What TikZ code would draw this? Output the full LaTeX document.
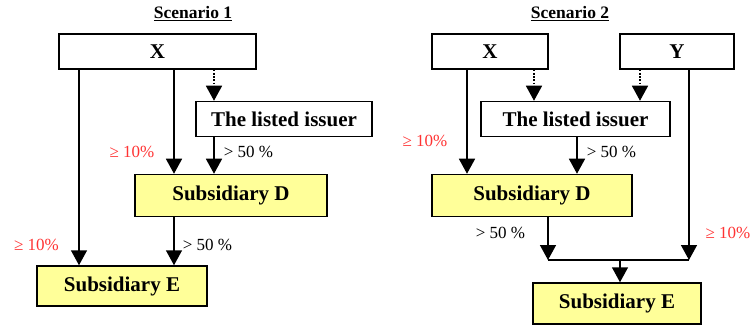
\documentclass[tikz,border=0pt]{standalone}
\usepackage{fontspec}
\setmainfont{Liberation Serif}
\usetikzlibrary{arrows.meta}

\begin{document}
\begin{tikzpicture}[x=1pt,y=-1pt,
  box/.style={draw,line width=1.5pt,inner sep=0pt,minimum height=35pt,
    font=\fontsize{21}{24}\selectfont\bfseries},
  subbox/.style={box,fill=sub_yellow,minimum height=42pt},
  arr/.style={line width=1.5pt,-{Triangle[width=16pt,length=15pt]}},
  dotarr/.style={arr,dash pattern=on 1.6pt off 1.6pt},
  pct/.style={font=\fontsize{17}{20}\selectfont},
  share/.style={pct,text=share_red},
  title/.style={font=\fontsize{17.5}{20}\selectfont\bfseries}]

\definecolor{sub_yellow}{HTML}{FFFF99}
\definecolor{share_red}{HTML}{FF3333}

\useasboundingbox (0,0) rectangle (753,326);

\node[title] (t1) at (193,14) {\underline{Scenario 1}};
\node[title] (t2) at (570,14) {\underline{Scenario 2}};

\node[box,minimum width=197pt] (x1) at (157.5,51.5) {X};
\node[box,minimum width=176pt] (li1) at (284,119) {The listed issuer};
\node[subbox,minimum width=192pt] (d1) at (231,195.5) {Subsidiary D};
\node[subbox,minimum width=170pt,minimum height=40pt] (e1) at (122,286) {Subsidiary E};

\coordinate (xl1) at (79,0);
\coordinate (xm1) at (174,0);
\coordinate (xr1) at (214,0);

\draw[arr] (xl1 |- x1.south) -- (xl1 |- e1.north);
\draw[arr] (xm1 |- x1.south) -- (xm1 |- d1.north);
\draw[dotarr] (xr1 |- x1.south) -- (xr1 |- li1.north);
\draw[arr] (xr1 |- li1.south) -- (xr1 |- d1.north);
\draw[arr] (xm1 |- d1.south) -- (xm1 |- e1.north);

\node[share] (s11) at (132,152) {≥ 10\%};
\node[pct] (p11) at (248.5,152) {> 50 \%};
\node[pct] (p12) at (207.5,245) {> 50 \%};
\node[share] (s12) at (36.5,245) {≥ 10\%};

\node[box,minimum width=116pt] (x2) at (490,51.5) {X};
\node[box,minimum width=114pt] (y2) at (677,51.5) {Y};
\node[box,minimum width=189pt] (li2) at (575.5,119) {The listed issuer};
\node[subbox,minimum width=200pt] (d2) at (532,195.5) {Subsidiary D};
\node[subbox,minimum width=168pt,minimum height=41pt] (e2) at (617,303.5) {Subsidiary E};

\coordinate (xl2) at (467,0);
\coordinate (xd2) at (534,0);
\coordinate (yd2) at (640,0);
\coordinate (yl2) at (689,0);
\coordinate (lm2) at (577,0);
\coordinate (dm2) at (548,0);
\coordinate (j2) at (620,260);

\draw[arr] (xl2 |- x2.south) -- (xl2 |- d2.north);
\draw[dotarr] (xd2 |- x2.south) -- (xd2 |- li2.north);
\draw[dotarr] (yd2 |- y2.south) -- (yd2 |- li2.north);
\draw[arr] (lm2 |- li2.south) -- (lm2 |- d2.north);
\draw[arr] (dm2 |- d2.south) -- (dm2 |- j2);
\draw[arr] (yl2 |- y2.south) -- (yl2 |- j2);
\draw[line width=1.5pt] (dm2 |- j2) -- (yl2 |- j2);
\draw[arr] (j2) -- (j2 |- e2.north);

\node[share] (s21) at (425,141) {≥ 10\%};
\node[pct] (p21) at (611.5,152) {> 50 \%};
\node[pct] (p22) at (500.5,233) {> 50 \%};
\node[share] (s22) at (728,233) {≥ 10\%};

\end{tikzpicture}
\end{document}
